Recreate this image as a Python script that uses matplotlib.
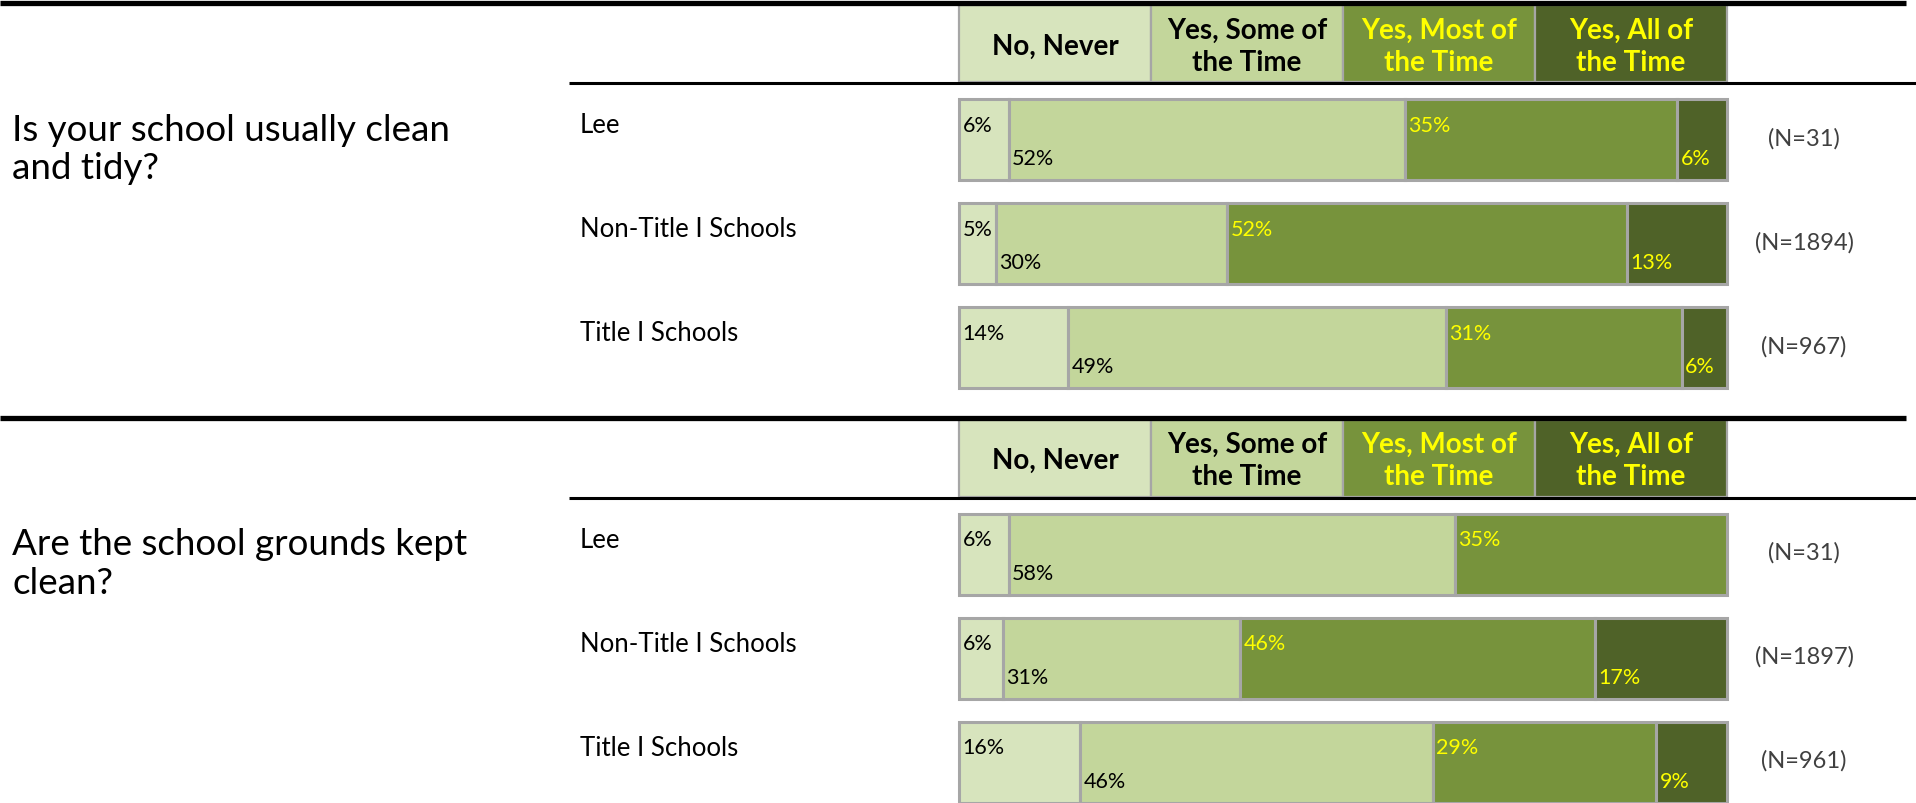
import numpy as np
import matplotlib
matplotlib.use("Agg")
import matplotlib.pyplot as plt

plt.rcParams['font.family'] = ['Lato', 'DejaVu Sans']

# data
questions = ["Is your school usually clean\nand tidy?",
             "Are the school grounds kept\nclean?"]
groups = ["Lee", "Non-Title I Schools", "Title I Schools"]
responses = ["No, Never", "Yes, Some of\nthe Time", "Yes, Most of\nthe Time", "Yes, All of\nthe Time"]
clean_tidy = [[6.45, 51.62, 35.48, 6.45],
              [4.8, 30.1, 52.1, 13.0],
              [14.2, 49.2, 30.7, 5.9]]
grounds_clean = [[6.45, 58.07, 35.48, 0.0],
                 [5.7, 30.9, 46.2, 17.2],
                 [15.8, 45.9, 29.1, 9.2]]
n_clean_tidy = [31, 1894, 967]
n_grounds = [31, 1897, 961]

colors = ['#D7E4BD', '#C3D69B', '#77933C', '#4F6228']
text_colors = ['black', 'black', '#FFFF00', '#FFFF00']
edge = '#A6A6A6'

W, H = 1916, 804
fig = plt.figure(figsize=(W / 100, H / 100), dpi=100)
bg = fig.add_axes([0, 0, 1, 1])
bg.set_xlim(0, W)
bg.set_ylim(H, 0)
bg.axis('off')
bg.set_zorder(2)
bg.patch.set_visible(False)

bar_x0, bar_x1 = 959, 1727
row_gap = 104.0

sections = [(questions[0], clean_tidy, n_clean_tidy),
            (questions[1], grounds_clean, n_grounds)]

for s, (question, data, ns) in enumerate(sections):
    off = 414.5 * s
    top_px, bot_px = off, min(off + 412, H)
    ax = fig.add_axes([bar_x0 / W, 1 - bot_px / H, (bar_x1 - bar_x0) / W, (bot_px - top_px) / H])
    row0 = off + 140.5
    ax.set_xlim(0, 100)
    ax.set_ylim((bot_px - row0) / row_gap, (top_px - row0) / row_gap)
    ax.axis('off')

    # rules
    bg.plot([0, 1906], [off + 4, off + 4], color='black', lw=3.8, solid_capstyle='butt')
    bg.plot([569, W], [off + 84, off + 84], color='black', lw=2.2, solid_capstyle='butt')

    # header boxes
    hy = (off + 44.5 - row0) / row_gap
    hw = np.full(len(responses), 100 / len(responses))
    hl = np.concatenate([[0], np.cumsum(hw)[:-1]])
    ax.barh(hy, hw, left=hl, height=77 / row_gap, color=colors, edgecolor=edge,
            linewidth=1.6, clip_on=False, zorder=1)
    for j, lab in enumerate(responses):
        ax.text(hl[j] + hw[j] / 2, hy + 0.02, lab, ha='center', va='center',
                fontsize=20, fontweight='bold', color=text_colors[j], linespacing=1.3)

    # bars
    for i, vals in enumerate(data):
        vals = np.array(vals)
        lefts = np.concatenate([[0], np.cumsum(vals)[:-1]])
        for j, v in enumerate(vals):
            if v <= 0:
                continue
            ax.barh(i, v, left=lefts[j], height=81 / row_gap, color=colors[j],
                    edgecolor=edge, linewidth=2.2, clip_on=False)
            ly = i - 0.14 if j % 2 == 0 else i + 0.18
            ax.annotate(f"{round(v)}%", (lefts[j], ly), xytext=(2.5, 0),
                        textcoords='offset points', ha='left', va='center',
                        fontsize=15.5, color=text_colors[j])
        ax.text((580 - bar_x0) / (bar_x1 - bar_x0), i - 0.14, groups[i],
                transform=ax.get_yaxis_transform(), ha='left', va='center',
                fontsize=18.5, color='black')
        ax.text((1804 - bar_x0) / (bar_x1 - bar_x0), i - 0.02, f"(N={ns[i]})",
                transform=ax.get_yaxis_transform(), ha='center', va='center',
                fontsize=17, color='#404040')

    ax.text((12 - bar_x0) / (bar_x1 - bar_x0), (off + 149.5 - row0) / row_gap, question,
            transform=ax.get_yaxis_transform(), ha='left', va='center',
            fontsize=26.5, color='black', linespacing=1.22)

fig.savefig('out.png', dpi=100)
